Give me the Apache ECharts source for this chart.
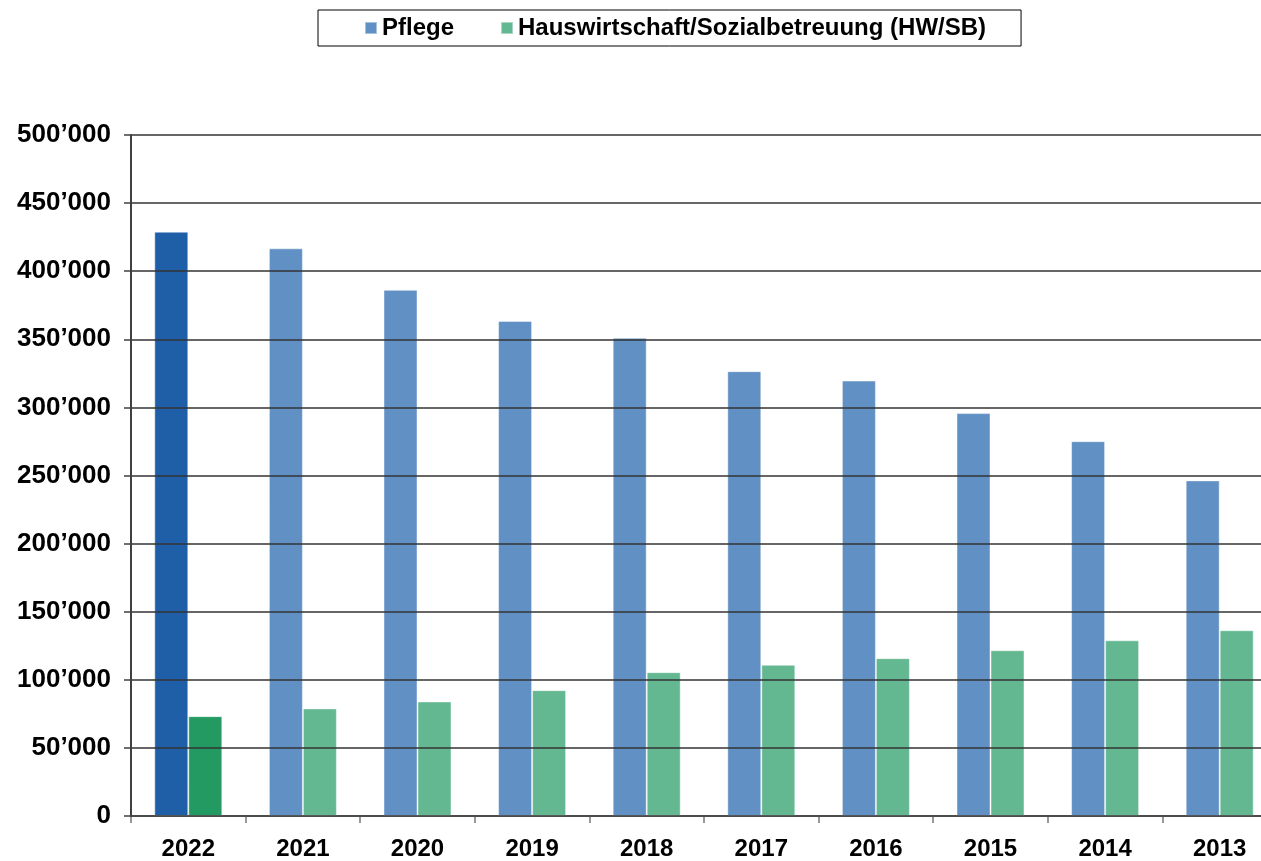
<!DOCTYPE html>
<html>
<head>
<meta charset="utf-8">
<script src="https://cdn.jsdelivr.net/npm/echarts@6/dist/echarts.min.js"></script>
<style>
  html, body { margin: 0; padding: 0; background: #fff; overflow: hidden; }
  /* breiter als das Fenster: die letzte Kategorie ist im Original rechts abgeschnitten */
  #chart { width: 1277px; height: 861px; }
</style>
</head>
<body>
<div id="chart"></div>
<script>
// Jahre (neueste zuerst)
var years = ['2022', '2021', '2020', '2019', '2018', '2017', '2016', '2015', '2014', '2013'];
// Stunden Pflege
var pflege = [429000, 416800, 386300, 363500, 351100, 326600, 319700, 295800, 275200, 246400];
// Stunden Hauswirtschaft/Sozialbetreuung
var hwsb = [73300, 79000, 84100, 92400, 105600, 111000, 115900, 121700, 129000, 136400];
var seriesNames = ['Pflege', 'Hauswirtschaft/Sozialbetreuung (HW/SB)'];

var chart = echarts.init(document.getElementById('chart'));

// aktuelles Jahr wird dunkler hervorgehoben
function buildData(values, highlight) {
  return values.map(function (v, i) {
    if (i === 0) return { value: v, itemStyle: { color: highlight } };
    return v;
  });
}

function fmt(v) {
  if (v === 0) return '0';
  var s = String(v);
  return s.slice(0, s.length - 3) + '\u2019' + s.slice(-3);
}

chart.setOption({
  animation: false,
  textStyle: { fontFamily: 'Liberation Sans, Arial, sans-serif' },
  legend: {
    data: seriesNames,
    left: 318,
    top: 10,
    padding: [6, 35, 6, 46],
    borderColor: '#000',
    borderWidth: 1,
    itemWidth: 12,
    itemHeight: 12,
    itemGap: 46,
    icon: 'rect',
    textStyle: { fontSize: 24, fontWeight: 'bold', color: '#000' }
  },
  grid: { left: 131, right: 0, top: 135, bottom: 45 },
  xAxis: {
    type: 'category',
    data: years,
    axisLine: { lineStyle: { color: '#999', width: 2 } },
    axisTick: { show: true, length: 7, lineStyle: { color: '#999', width: 2 } },
    axisLabel: { fontSize: 24, fontWeight: 'bold', color: '#000', margin: 21 }
  },
  yAxis: {
    type: 'value',
    min: 0,
    max: 500000,
    interval: 50000,
    z: 5,
    axisLine: { show: true, lineStyle: { color: '#404040', width: 2 } },
    axisTick: { show: true, length: 7, lineStyle: { color: '#404040', width: 1.5 } },
    splitLine: { lineStyle: { color: '#333', width: 1.5 } },
    axisLabel: { fontSize: 26, fontWeight: 'bold', color: '#000', margin: 20, formatter: fmt }
  },
  series: [
    {
      name: seriesNames[0],
      type: 'bar',
      barWidth: 34,
      barGap: '0%',
      itemStyle: { color: '#6190C4', borderColor: 'rgba(255,255,255,0.45)', borderWidth: 1 },
      data: buildData(pflege, '#1F5FA8')
    },
    {
      name: seriesNames[1],
      type: 'bar',
      barWidth: 34,
      barGap: '0%',
      itemStyle: { color: '#63B892', borderColor: 'rgba(255,255,255,0.45)', borderWidth: 1 },
      data: buildData(hwsb, '#229A62')
    }
  ]
});
</script>
</body>
</html>
